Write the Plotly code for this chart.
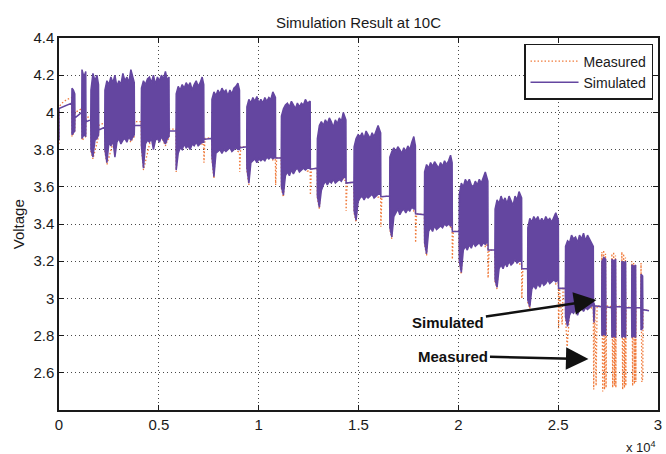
import plotly.graph_objects as go

# ---------------- data ----------------
# Simulated voltage: time (s), upper and lower envelope of the dense pulse trains
# (during rests the upper and lower values are equal)
sim_t = [0, 0, 300, 640,
         650, 720, 790, 800, 1140,
         1150, 1250, 1340, 1350, 1590,
         1600, 1700, 1800, 1900, 1980, 1990, 2290,
         2300, 2400, 2500, 2600, 2700, 2800, 2900, 3000, 3100, 3200, 3300, 3400, 3500, 3600, 3700, 3770, 3780, 4120,
         4130, 4230, 4330, 4430, 4530, 4630, 4730, 4830, 4930, 5030, 5130, 5230, 5330, 5430, 5510, 5520, 5860,
         5870, 5970, 6070, 6170, 6270, 6370, 6470, 6570, 6670, 6770, 6870, 6970, 7070, 7170, 7250, 7260, 7650,
         7660, 7760, 7860, 7960, 8060, 8160, 8260, 8360, 8460, 8560, 8660, 8760, 8860, 8960, 9040, 9050, 9400,
         9410, 9510, 9610, 9710, 9810, 9910, 10010, 10110, 10210, 10310, 10410, 10510, 10610, 10710, 10840, 10850, 11130,
         11140, 11240, 11340, 11440, 11540, 11640, 11740, 11840, 11940, 12040, 12140, 12240, 12340, 12440, 12580, 12590, 12930,
         12940, 13040, 13140, 13240, 13340, 13440, 13540, 13640, 13740, 13840, 13940, 14040, 14140, 14240, 14370, 14380, 14770,
         14780, 14880, 14980, 15080, 15180, 15280, 15380, 15480, 15580, 15680, 15780, 15880, 15980, 16110, 16120, 16560,
         16570, 16670, 16770, 16870, 16970, 17070, 17170, 17270, 17370, 17470, 17570, 17670, 17770, 17850, 17860, 18300,
         18310, 18410, 18510, 18610, 18710, 18810, 18910, 19010, 19110, 19210, 19310, 19410, 19510, 19610, 19690, 19700, 20040,
         20050, 20150, 20250, 20350, 20450, 20550, 20650, 20750, 20850, 20950, 21050, 21150, 21250, 21350, 21480, 21490, 21830,
         21840, 21940, 22040, 22140, 22240, 22340, 22440, 22540, 22640, 22740, 22840, 22940, 23040, 23170, 23180, 23470,
         23480, 23580, 23680, 23780, 23880, 23980, 24080, 24180, 24280, 24380, 24480, 24580, 24680, 24780, 24880, 25010, 25020, 25360,
         25370, 25470, 25570, 25670, 25770, 25870, 25970, 26070, 26170, 26270, 26370, 26470, 26570, 26670, 26760, 26770,
         26790, 26830, 27180,
         27190, 27290, 27380, 27390, 27680,
         27690, 27790, 27880, 27890, 28180,
         28190, 28290, 28380, 28390, 28680,
         28690, 28790, 28880, 28890, 29140,
         29150, 29230, 29240, 29550]

sim_hi = [3.85, 4.02, 4.035, 4.05,
          4.13, 4.12, 4.10, 3.97, 4.00,
          4.23, 4.19, 4.22, 3.95, 3.96,
          4.12, 4.21, 4.17, 4.20, 4.15, 3.905, 3.92,
          4.12, 4.17, 4.15, 4.19, 4.16, 4.20, 4.14, 4.17, 4.15, 4.21, 4.17, 4.19, 4.16, 4.23, 4.18, 4.16, 3.93, 3.93,
          4.13, 4.17, 4.15, 4.18, 4.19, 4.16, 4.20, 4.15, 4.19, 4.17, 4.20, 4.18, 4.22, 4.17, 4.19, 3.90, 3.90,
          4.10, 4.14, 4.12, 4.15, 4.13, 4.16, 4.14, 4.16, 4.12, 4.15, 4.17, 4.14, 4.16, 4.19, 4.15, 3.855, 3.86,
          4.07, 4.11, 4.09, 4.12, 4.10, 4.13, 4.11, 4.12, 4.09, 4.12, 4.10, 4.13, 4.14, 4.157, 4.12, 3.81, 3.815,
          4.03, 4.07, 4.05, 4.08, 4.06, 4.085, 4.05, 4.07, 4.05, 4.08, 4.06, 4.08, 4.07, 4.11, 4.08, 3.755, 3.755,
          3.98, 4.02, 4.04, 4.05, 4.03, 4.06, 4.04, 4.02, 4.05, 4.03, 4.05, 4.04, 4.07, 4.05, 4.06, 3.695, 3.70,
          3.86, 3.93, 3.95, 3.93, 3.96, 3.94, 3.97, 3.95, 3.92, 3.96, 3.94, 3.97, 3.95, 4.00, 3.96, 3.62, 3.625,
          3.815, 3.86, 3.88, 3.87, 3.89, 3.86, 3.90, 3.88, 3.86, 3.89, 3.87, 3.90, 3.93, 3.89, 3.547, 3.55,
          3.76, 3.79, 3.81, 3.79, 3.815, 3.80, 3.78, 3.81, 3.79, 3.82, 3.80, 3.84, 3.87, 3.82, 3.455, 3.45,
          3.68, 3.72, 3.70, 3.73, 3.71, 3.735, 3.72, 3.70, 3.73, 3.71, 3.74, 3.72, 3.74, 3.77, 3.73, 3.36, 3.36,
          3.56, 3.62, 3.60, 3.64, 3.62, 3.64, 3.61, 3.60, 3.63, 3.61, 3.64, 3.62, 3.65, 3.68, 3.63, 3.26, 3.26,
          3.48, 3.53, 3.51, 3.55, 3.52, 3.54, 3.51, 3.55, 3.52, 3.50, 3.55, 3.53, 3.574, 3.54, 3.16, 3.16,
          3.38, 3.43, 3.41, 3.44, 3.42, 3.44, 3.41, 3.43, 3.41, 3.44, 3.42, 3.43, 3.41, 3.44, 3.46, 3.42, 3.054, 3.055,
          3.28, 3.31, 3.30, 3.34, 3.32, 3.33, 3.30, 3.34, 3.32, 3.35, 3.31, 3.34, 3.32, 3.30, 3.28, 2.96,
          2.975, 2.96, 2.955,
          3.20, 3.22, 3.21, 2.955, 2.95,
          3.21, 3.20, 3.21, 2.955, 2.955,
          3.20, 3.19, 3.20, 2.95, 2.95,
          3.18, 3.17, 3.18, 2.95, 2.95,
          3.13, 3.12, 2.94, 2.934]

sim_lo = [3.85, 4.02, 4.035, 4.05,
          3.88, 3.89, 3.90, 3.97, 4.00,
          3.86, 3.88, 3.87, 3.95, 3.96,
          3.80, 3.76, 3.85, 3.86, 3.88, 3.905, 3.92,
          3.80, 3.73, 3.84, 3.82, 3.85, 3.76, 3.84, 3.86, 3.83, 3.85, 3.86, 3.84, 3.87, 3.85, 3.87, 3.88, 3.93, 3.93,
          3.82, 3.70, 3.83, 3.85, 3.84, 3.86, 3.80, 3.85, 3.86, 3.84, 3.87, 3.85, 3.83, 3.86, 3.87, 3.90, 3.90,
          3.69, 3.78, 3.81, 3.80, 3.83, 3.81, 3.82, 3.80, 3.83, 3.82, 3.84, 3.82, 3.83, 3.84, 3.84, 3.855, 3.86,
          3.76, 3.655, 3.78, 3.79, 3.80, 3.78, 3.80, 3.79, 3.80, 3.81, 3.79, 3.80, 3.81, 3.80, 3.80, 3.81, 3.815,
          3.70, 3.62, 3.73, 3.74, 3.75, 3.73, 3.75, 3.74, 3.75, 3.74, 3.76, 3.75, 3.76, 3.75, 3.76, 3.755, 3.755,
          3.60, 3.556, 3.66, 3.68, 3.66, 3.69, 3.67, 3.69, 3.70, 3.68, 3.69, 3.70, 3.69, 3.70, 3.70, 3.695, 3.70,
          3.55, 3.49, 3.58, 3.61, 3.63, 3.61, 3.63, 3.62, 3.64, 3.62, 3.63, 3.64, 3.63, 3.65, 3.65, 3.62, 3.625,
          3.47, 3.42, 3.52, 3.54, 3.55, 3.53, 3.55, 3.54, 3.55, 3.56, 3.54, 3.55, 3.56, 3.56, 3.547, 3.55,
          3.38, 3.33, 3.44, 3.46, 3.48, 3.45, 3.47, 3.48, 3.46, 3.48, 3.47, 3.49, 3.48, 3.48, 3.455, 3.45,
          3.30, 3.24, 3.36, 3.38, 3.36, 3.39, 3.37, 3.38, 3.39, 3.38, 3.40, 3.39, 3.40, 3.39, 3.40, 3.36, 3.36,
          3.20, 3.14, 3.26, 3.28, 3.26, 3.29, 3.27, 3.30, 3.28, 3.29, 3.30, 3.28, 3.30, 3.29, 3.31, 3.26, 3.26,
          3.10, 3.06, 3.16, 3.18, 3.16, 3.19, 3.17, 3.20, 3.18, 3.19, 3.21, 3.19, 3.20, 3.20, 3.16, 3.16,
          2.99, 2.955, 3.05, 3.07, 3.05, 3.08, 3.06, 3.09, 3.07, 3.08, 3.10, 3.08, 3.09, 3.10, 3.09, 3.10, 3.054, 3.055,
          2.90, 2.85, 2.91, 2.93, 2.92, 2.94, 2.91, 2.94, 2.95, 2.93, 2.95, 2.94, 2.95, 2.96, 2.96, 2.96,
          2.87, 2.96, 2.955,
          2.80, 2.81, 2.80, 2.955, 2.95,
          2.79, 2.80, 2.79, 2.955, 2.955,
          2.79, 2.80, 2.79, 2.95, 2.95,
          2.79, 2.80, 2.79, 2.95, 2.95,
          2.83, 2.84, 2.94, 2.934]

# Measured voltage: time (s) and value along the visible path
meas_t = [0, 0, 150, 400, 640,
          650, 790, 800, 1140,
          1150, 1340, 1350, 1590,
          1600, 1700, 1980, 1990, 2290,
          2300, 2400, 3000, 3600, 3700, 3770, 3780, 4120,
          4130, 4230, 4800, 5330, 5430, 5510, 5520, 5860,
          5870, 6000, 7070, 7170, 7250, 7260, 7310, 7650,
          7660, 7760, 7900, 8860, 8960, 9040, 9050, 9100, 9400,
          9410, 9510, 9650, 10610, 10710, 10840, 10850, 10900, 11130,
          11140, 11240, 11400, 12340, 12440, 12580, 12590, 12640, 12930,
          12940, 13040, 13200, 14140, 14240, 14370, 14380, 14430, 14770,
          14780, 14880, 15050, 15880, 15980, 16110, 16120, 16170, 16560,
          16570, 16670, 16800, 17670, 17770, 17850, 17860, 17910, 18300,
          18310, 18410, 18550, 19510, 19610, 19690, 19700, 19750, 20040,
          20050, 20150, 20300, 21250, 21350, 21480, 21490, 21540, 21830,
          21840, 21940, 22100, 22940, 23040, 23170, 23180, 23230, 23470,
          23480, 23580, 23750, 24780, 24880, 25010, 25020, 25070, 25200, 25250, 25360,
          25370, 25450, 25520, 25650, 26570, 26670, 26760,
          26780, 26830, 26900, 26950, 27180,
          27190, 27230, 27280, 27320, 27370, 27400, 27420, 27680,
          27690, 27730, 27780, 27820, 27870, 27890, 27900, 28180,
          28190, 28230, 28280, 28320, 28370, 28390, 28400, 28680,
          28690, 28730, 28780, 28820, 28870, 28890, 28900, 29140,
          29150, 29190, 29240, 29250, 29550]

meas_v = [3.83, 4.03, 4.05, 4.07, 4.08,
          3.87, 3.90, 4.00, 4.02,
          3.85, 3.87, 3.97, 3.98,
          3.79, 3.75, 3.87, 3.93, 3.945,
          3.79, 3.72, 3.95, 3.84, 3.86, 3.87, 3.95, 3.95,
          3.81, 3.69, 3.95, 3.82, 3.85, 3.86, 3.91, 3.91,
          3.68, 3.95, 3.95, 3.825, 3.83, 3.73, 3.86, 3.865,
          3.75, 3.645, 3.95, 3.95, 3.79, 3.785, 3.68, 3.815, 3.815,
          3.69, 3.61, 3.90, 3.90, 3.74, 3.745, 3.61, 3.755, 3.755,
          3.59, 3.545, 3.85, 3.85, 3.685, 3.685, 3.556, 3.695, 3.70,
          3.54, 3.48, 3.80, 3.80, 3.635, 3.635, 3.47, 3.62, 3.625,
          3.46, 3.41, 3.70, 3.70, 3.545, 3.545, 3.385, 3.547, 3.55,
          3.37, 3.32, 3.60, 3.60, 3.465, 3.465, 3.30, 3.455, 3.45,
          3.29, 3.23, 3.55, 3.55, 3.375, 3.385, 3.21, 3.36, 3.36,
          3.19, 3.13, 3.45, 3.45, 3.275, 3.295, 3.11, 3.26, 3.26,
          3.09, 3.05, 3.35, 3.35, 3.185, 3.185, 3.00, 3.16, 3.16,
          2.98, 2.945, 3.25, 3.25, 3.075, 3.085, 2.84, 3.054, 2.86, 3.055, 3.055,
          2.89, 2.74, 2.84, 3.10, 3.10, 2.945, 2.945,
          2.51, 2.96, 2.53, 2.96, 2.96,
          3.25, 2.50, 3.26, 2.51, 3.24, 2.52, 2.96, 2.955,
          3.24, 2.52, 3.25, 2.53, 3.23, 2.52, 2.96, 2.955,
          3.25, 2.51, 3.24, 2.52, 3.22, 2.53, 2.955, 2.95,
          3.20, 2.53, 3.19, 2.54, 3.18, 2.55, 2.95, 2.95,
          3.19, 2.55, 2.57, 2.94, 2.934]

x_tick_vals = [0, 5000, 10000, 15000, 20000, 25000, 30000]
x_tick_text = ["0", "0.5", "1", "1.5", "2", "2.5", "3"]
y_tick_vals = [2.6, 2.8, 3.0, 3.2, 3.4, 3.6, 3.8, 4.0, 4.2, 4.4]
y_tick_text = ["2.6", "2.8", "3", "3.2", "3.4", "3.6", "3.8", "4", "4.2", "4.4"]

# ---------------- styling ----------------
PURPLE = "#6446a0"
ORANGE = "#f07a3a"
INK = "#1a1a1a"
FONT = "Liberation Sans, Arial, Helvetica, sans-serif"

fig = go.Figure()
fig.add_trace(go.Scatter(
    x=meas_t, y=meas_v, mode="lines", name="Measured",
    line=dict(color=ORANGE, width=1.3, dash="1.5px,2px"), hoverinfo="skip"))
fig.add_trace(go.Scatter(
    x=sim_t + sim_t[::-1], y=sim_hi + sim_lo[::-1], mode="lines",
    fill="toself", fillcolor=PURPLE, line=dict(color=PURPLE, width=1.5),
    showlegend=False, hoverinfo="skip"))
fig.add_trace(go.Scatter(
    x=[None], y=[None], mode="lines", name="Simulated",
    line=dict(color=PURPLE, width=1.5)))

axis_common = dict(
    ticks="inside", ticklen=5, tickwidth=1, tickcolor=INK,
    showline=True, linecolor=INK, linewidth=1.5, mirror="allticks",
    showgrid=True, gridcolor="rgba(40,40,40,0.85)", griddash="1px,3px", gridwidth=1,
    zeroline=False, tickfont=dict(size=15, color=INK, family=FONT),
)
fig.update_xaxes(range=[0, 30000], tickvals=x_tick_vals, ticktext=x_tick_text,
                 **axis_common)
fig.update_yaxes(range=[2.4, 4.4], tickvals=y_tick_vals, ticktext=y_tick_text,
                 **axis_common)

fig.update_layout(
    width=666, height=454,
    margin=dict(l=59, r=4, t=38, b=44),
    paper_bgcolor="white", plot_bgcolor="white",
    font=dict(family=FONT, size=15, color=INK),
    title=dict(text="Simulation Result at 10C", x=0.5, xref="paper", xanchor="center",
               y=1 - 23 / 454, yref="container", yanchor="middle",
               font=dict(size=15, color=INK, family=FONT)),
    showlegend=True,
    legend=dict(x=0.9917, y=0.984, xanchor="right", yanchor="top",
                bordercolor=INK, borderwidth=1.5, bgcolor="white", itemwidth=48,
                font=dict(size=14, color=INK, family=FONT), tracegroupgap=0),
    annotations=[
        dict(text="Voltage", xref="paper", yref="paper", x=-0.068, y=0.5,
             textangle=-90, showarrow=False, xanchor="center", yanchor="middle",
             font=dict(size=15, color=INK, family=FONT)),
        dict(text="x 10<sup>4</sup>", xref="paper", yref="paper", x=1.0, y=-0.1,
             xanchor="right", yanchor="middle", showarrow=False,
             font=dict(size=13, color=INK, family=FONT)),
        dict(text="<b>Simulated</b>", xref="x", yref="y", x=26915, y=2.991,
             ax=-148, ay=22, showarrow=True, arrowhead=2, arrowsize=1.8,
             arrowwidth=2.5, arrowcolor="#111111",
             font=dict(size=15, color="#111111", family=FONT)),
        dict(text="<b>Measured</b>", xref="x", yref="y", x=26517, y=2.674,
             ax=-135, ay=-3, showarrow=True, arrowhead=2, arrowsize=1.8,
             arrowwidth=2.5, arrowcolor="#111111",
             font=dict(size=15, color="#111111", family=FONT)),
    ],
)

fig.write_html("out.html")
